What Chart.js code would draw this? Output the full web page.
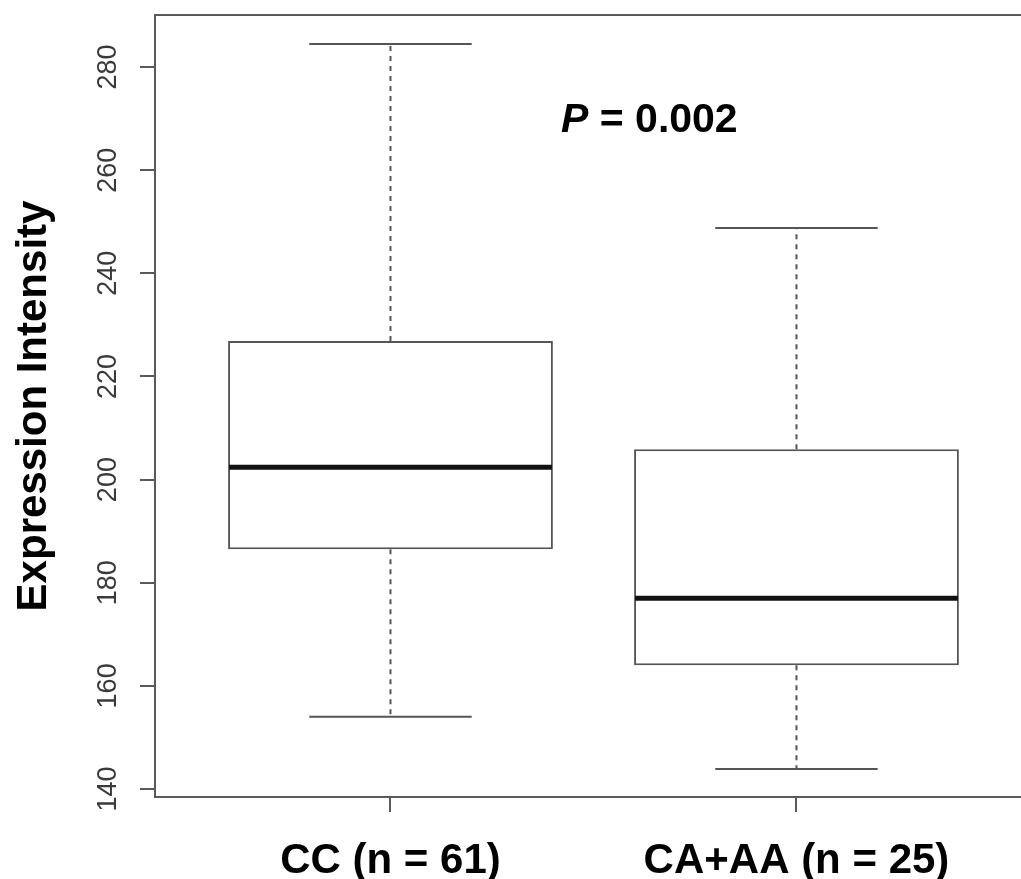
<!DOCTYPE html>
<html>
<head>
<meta charset="utf-8">
<script src="https://cdn.jsdelivr.net/npm/chart.js@4.4.1/dist/chart.umd.min.js"></script>
<style>
  html, body { margin: 0; padding: 0; background: #fff; overflow: hidden; }
  canvas { display: block; }
</style>
</head>
<body>
<canvas id="box" width="1021" height="879"></canvas>
<script>
// values
const categories = ["CC (n = 61)", "CA+AA (n = 25)"];
const whiskerLow = [154.0, 143.9];
const q1 = [186.5, 164.0];
const median = [202.4, 177.0];
const q3 = [226.9, 205.9];
const whiskerHigh = [284.5, 248.8];
const yTicks = [140, 160, 180, 200, 220, 240, 260, 280];

const fontFamily = "'Liberation Sans', Arial, Helvetica, sans-serif";
const frameColor = "#5a5a5a";
const boxColor = "#555";

// frame, whiskers, medians, tick labels and the P text
const boxPlugin = {
  id: "boxPlugin",
  beforeDatasetsDraw(chart) {
    const { ctx, chartArea: a, scales: { x, y } } = chart;
    ctx.save();
    ctx.strokeStyle = frameColor;
    ctx.lineWidth = 2;
    ctx.beginPath();
    ctx.moveTo(a.right + 5, a.top);
    ctx.lineTo(a.left, a.top);
    ctx.lineTo(a.left, a.bottom);
    ctx.lineTo(a.right + 5, a.bottom);
    ctx.stroke();

    categories.forEach((c, i) => {
      const cx = x.getPixelForValue(i + 1);
      ctx.strokeStyle = boxColor;
      ctx.lineWidth = 2;
      ctx.setLineDash([5, 5]);
      ctx.beginPath();
      ctx.moveTo(cx, y.getPixelForValue(q3[i]));
      ctx.lineTo(cx, y.getPixelForValue(whiskerHigh[i]));
      ctx.moveTo(cx, y.getPixelForValue(q1[i]));
      ctx.lineTo(cx, y.getPixelForValue(whiskerLow[i]));
      ctx.stroke();
      ctx.setLineDash([]);
      // caps, half the box width
      const l = x.getPixelForValue(i + 1 - 0.2);
      const r = x.getPixelForValue(i + 1 + 0.2);
      ctx.beginPath();
      ctx.moveTo(l, y.getPixelForValue(whiskerHigh[i]));
      ctx.lineTo(r, y.getPixelForValue(whiskerHigh[i]));
      ctx.moveTo(l, y.getPixelForValue(whiskerLow[i]));
      ctx.lineTo(r, y.getPixelForValue(whiskerLow[i]));
      ctx.stroke();
    });
    ctx.restore();
  },
  afterDatasetsDraw(chart) {
    const { ctx, chartArea: a, scales: { x, y } } = chart;
    ctx.save();
    // medians
    ctx.strokeStyle = "#111";
    ctx.lineWidth = 5;
    categories.forEach((c, i) => {
      const my = y.getPixelForValue(median[i]);
      ctx.beginPath();
      ctx.moveTo(x.getPixelForValue(i + 1 - 0.4) + 1, my);
      ctx.lineTo(x.getPixelForValue(i + 1 + 0.4) - 1, my);
      ctx.stroke();
    });

    // y tick labels, rotated like R does
    ctx.fillStyle = "#3a3a3a";
    ctx.font = "27px " + fontFamily;
    ctx.textAlign = "center";
    ctx.textBaseline = "middle";
    yTicks.forEach((v) => {
      ctx.save();
      ctx.translate(a.left - 46, y.getPixelForValue(v));
      ctx.rotate(-Math.PI / 2);
      ctx.fillText(String(v), 0, 0);
      ctx.restore();
    });

    // P value
    ctx.fillStyle = "#000";
    ctx.textAlign = "left";
    ctx.textBaseline = "alphabetic";
    const px = x.getPixelForValue(1.42);
    const py = y.getPixelForValue(267.4);
    ctx.font = "italic bold 41px " + fontFamily;
    ctx.fillText("P", px, py);
    const w = ctx.measureText("P").width;
    ctx.font = "bold 41px " + fontFamily;
    ctx.fillText(" = 0.002", px + w, py);
    ctx.restore();
  },
};

const chart = new Chart(document.getElementById("box"), {
  type: "bar",
  data: {
    datasets: [
      {
        data: categories.map((c, i) => ({ x: i + 1, y: [q1[i], q3[i]] })),
        backgroundColor: "#fff",
        borderColor: boxColor,
        borderWidth: 2,
        borderSkipped: false,
        barPercentage: 0.8,
        categoryPercentage: 1,
      },
    ],
  },
  options: {
    responsive: false,
    animation: false,
    layout: {
      padding: { top: 15, right: 0, left: 0, bottom: 0 },
    },
    plugins: {
      legend: { display: false },
      tooltip: { enabled: false },
    },
    scales: {
      x: {
        type: "linear",
        min: 0.42,
        max: 2.553,
        offset: false,
        afterBuildTicks: (s) => {
          s.ticks = categories.map((c, i) => ({ value: i + 1 }));
        },
        afterFit: (s) => {
          s.height = 82;
        },
        border: { display: false },
        grid: {
          offset: false,
          drawOnChartArea: false,
          tickLength: 15,
          color: frameColor,
          lineWidth: 2,
        },
        ticks: {
          callback: (v) => categories[v - 1],
          autoSkip: false,
          maxRotation: 0,
          padding: 24,
          color: "#000",
          font: { family: fontFamily, size: 42, weight: "bold" },
        },
      },
      y: {
        min: 138.45,
        max: 290.1,
        afterBuildTicks: (s) => {
          s.ticks = yTicks.map((v) => ({ value: v }));
        },
        afterFit: (s) => {
          s.width = 155;
        },
        border: { display: false },
        grid: {
          drawOnChartArea: false,
          tickLength: 15,
          color: frameColor,
          lineWidth: 2,
        },
        ticks: { display: false },
        title: {
          display: true,
          text: "Expression Intensity",
          color: "#000",
          padding: { top: 9, bottom: 0 },
          font: { family: fontFamily, size: 42, weight: "bold" },
        },
      },
    },
  },
  plugins: [boxPlugin],
});
</script>
</body>
</html>
